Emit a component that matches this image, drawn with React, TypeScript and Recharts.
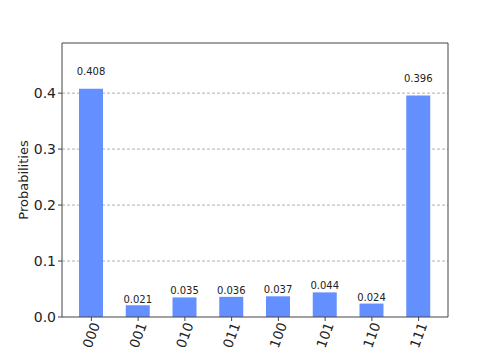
import React from 'react';
import { BarChart, Bar, XAxis, YAxis, CartesianGrid, LabelList } from 'recharts';

const states = ['000', '001', '010', '011', '100', '101', '110', '111'];
const probabilities = [0.408, 0.021, 0.035, 0.036, 0.037, 0.044, 0.024, 0.396];
const yTicks = [0, 0.1, 0.2, 0.3, 0.4];
const yMax = 0.4896;

const data = states.map((state, i) => ({ state, prob: probabilities[i] }));

const FONT = '"DejaVu Sans", sans-serif';
const SPINE = '#444';

// rotated bit-string labels like matplotlib's rotation=70
const StateTick = ({ x, y, payload }: any) => (
  <g transform={`translate(${x},${y})`}>
    <text
      x={4}
      y={0}
      textAnchor="end"
      dominantBaseline="central"
      transform="rotate(-70 4 0)"
      fontFamily={FONT}
      fontSize={13.5}
      fill="#222"
    >
      {payload.value}
    </text>
  </g>
);

// value text sits at 1.05 x bar height, like qiskit's histogram
const ValueLabel = ({ x, y, width, height, value }: any) => (
  <text
    x={x + width / 2}
    y={y - 0.05 * height - 2}
    textAnchor="middle"
    fontFamily={FONT}
    fontSize={10}
    fill="#222"
  >
    {Number(value).toFixed(3)}
  </text>
);

export default function App() {
  return (
    <div style={{ position: 'absolute', left: 0, top: 0, background: '#fff' }}>
      <BarChart
        width={498}
        height={356}
        data={data}
        margin={{ top: 42, right: 49, left: 0, bottom: 0 }}
      >
        <CartesianGrid
          vertical={false}
          horizontal
          stroke="#b0b0b0"
          strokeDasharray="3 2"
          horizontalValues={[0.1, 0.2, 0.3, 0.4]}
        />
        <XAxis
          dataKey="state"
          height={39}
          padding={{ left: 6, right: 6 }}
          tick={<StateTick />}
          tickSize={4}
          interval={0}
          axisLine={{ stroke: SPINE }}
          tickLine={{ stroke: SPINE }}
        />
        <XAxis
          xAxisId="frameTop"
          orientation="top"
          dataKey="state"
          height={1}
          tick={false}
          tickLine={false}
          axisLine={{ stroke: SPINE }}
        />
        <YAxis
          width={62}
          domain={[0, yMax]}
          ticks={yTicks}
          tickFormatter={(v: number) => v.toFixed(1)}
          tickSize={4}
          tick={{ fontFamily: FONT, fontSize: 14, fill: '#222' }}
          axisLine={{ stroke: SPINE }}
          tickLine={{ stroke: SPINE }}
          allowDataOverflow
          label={{
            value: 'Probabilities',
            angle: -90,
            position: 'insideLeft',
            dx: 18,
            style: { fontFamily: FONT, fontSize: 13, fill: '#222', textAnchor: 'middle' },
          }}
        />
        <YAxis
          yAxisId="frameRight"
          orientation="right"
          width={1}
          domain={[0, yMax]}
          tick={false}
          tickLine={false}
          axisLine={{ stroke: SPINE }}
        />
        <Bar dataKey="prob" fill="#648fff" barSize={24} isAnimationActive={false}>
          <LabelList dataKey="prob" content={<ValueLabel />} />
        </Bar>
      </BarChart>
    </div>
  );
}
